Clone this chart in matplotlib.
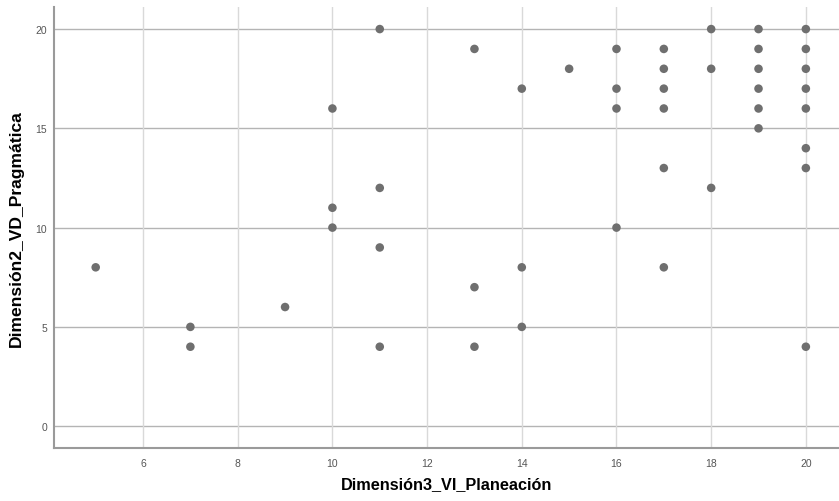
import matplotlib
matplotlib.use("Agg")
import matplotlib.pyplot as plt

# Puntajes por estudiante: x = Dimensión3_VI_Planeación, y = Dimensión2_VD_Pragmática
planeacion = [
    5,
    7, 7,
    9,
    10, 10, 10,
    11, 11, 11, 11,
    13, 13, 13,
    14, 14, 14,
    15,
    16, 16, 16, 16,
    17, 17, 17, 17, 17, 17,
    18, 18, 18,
    19, 19, 19, 19, 19, 19,
    20, 20, 20, 20, 20, 20, 20, 20,
]
pragmatica = [
    8,
    5, 4,
    6,
    16, 11, 10,
    20, 12, 9, 4,
    19, 7, 4,
    17, 8, 5,
    18,
    19, 17, 16, 10,
    19, 18, 17, 16, 13, 8,
    20, 18, 12,
    20, 19, 18, 17, 16, 15,
    20, 19, 18, 17, 16, 14, 13, 4,
]

x_ticks = [6, 8, 10, 12, 14, 16, 18, 20]
y_ticks = [0, 5, 10, 15, 20]

plt.rcParams["font.family"] = ["Liberation Sans", "DejaVu Sans"]

fig = plt.figure(figsize=(8.39, 5.02), dpi=100)
ax = fig.add_axes([0.0644, 0.1056, 0.9356, 0.878])

ax.scatter(planeacion, pragmatica, s=38, color="#6f6f6f", edgecolors="none", zorder=3)

ax.set_xlim(4.12, 20.7)
ax.set_ylim(-1.1, 21.1)
ax.set_xticks(x_ticks)
ax.set_yticks(y_ticks)

for y in y_ticks:
    ax.axhline(y, color="#b4b4b4", linewidth=1.0, zorder=1)
for x in x_ticks:
    ax.axvline(x, color="#d9d9d9", linewidth=1.0, zorder=1)

for side in ["top", "right"]:
    ax.spines[side].set_visible(False)
for side in ["left", "bottom"]:
    ax.spines[side].set_color("#9a9a9a")
    ax.spines[side].set_linewidth(1.5)

ax.tick_params(length=0, labelsize=7.5, colors="#555555")
ax.tick_params(axis="x", pad=7)
ax.tick_params(axis="y", pad=5)

ax.set_xlabel("Dimensión3_VI_Planeación", fontsize=11.7, fontweight="bold", labelpad=6)
ax.set_ylabel("Dimensión2_VD_Pragmática", fontsize=12.6, fontweight="bold", labelpad=8)

fig.savefig("out.png", dpi=100)
